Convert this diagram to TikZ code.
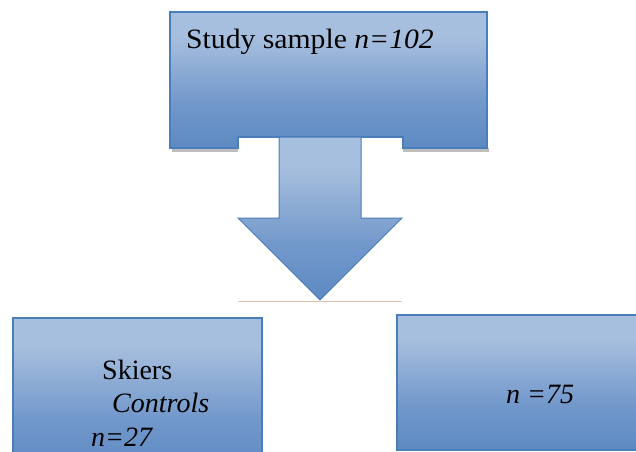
\documentclass[tikz,border=0pt]{standalone}
\usepackage{fontspec}
\setmainfont{Liberation Serif}
\newfontfamily\boxfont{Liberation Serif}
\definecolor{boxlight}{RGB}{167,191,222}
\definecolor{boxmid}{RGB}{114,152,203}
\definecolor{boxdark}{RGB}{79,129,189}
\definecolor{boxedge}{RGB}{74,126,187}
\definecolor{shadowgray}{RGB}{190,190,190}
\definecolor{tanline}{RGB}{222,196,176}
% vertical fill: dark at the bottom, light over the upper part
\pgfdeclareverticalshading{officeblue}{100bp}{color(0bp)=(boxdark); color(14bp)=(boxdark); color(42bp)=(boxmid); color(66bp)=(boxlight); color(100bp)=(boxlight)}
\tikzset{
  bluebox/.style={shading=officeblue, draw=boxedge, line width=1.2pt},
  boxshadow/.style={fill=shadowgray, draw=none},
  label/.style={anchor=base west, inner sep=0pt, font=\boxfont\fontsize{28}{28}\selectfont},
}
\begin{document}
\begin{tikzpicture}[x=1pt,y=-1pt]
\useasboundingbox (0,0) rectangle (636,451);
\clip (0,0) rectangle (636,451);
\fill[white] (0,0) rectangle (636,451);

% top box with a notch for the arrow
\fill[boxshadow] (172,148) rectangle (238,152);
\fill[boxshadow] (403,148) rectangle (489,152);
\path[bluebox] (170,12) -- (487,12) -- (487,148) -- (403,148) -- (403,137)
  -- (238,137) -- (238,148) -- (170,148) -- cycle;
\node[label, xscale=1.06] (study) at (186,48) {Study sample \textit{n=102}};

% downward block arrow
\path[bluebox, line width=1pt] (279,137) -- (361,137) -- (361,218) -- (402,218)
  -- (320,300) -- (238,218) -- (279,218) -- cycle;
\draw[tanline, line width=0.8pt] (238,301) -- (402,301);

% lower left box
\path[bluebox] (13,318) rectangle (262,470);
\node[label] (skiers) at (102,379) {Skiers};
\node[label] (controls) at (112,412) {\textit{Controls}};
\node[label] (nskiers) at (91,446) {\textit{n=27}};

% lower right box
\path[bluebox] (397,315) rectangle (650,450);
\node[label] (nctrl) at (506,403) {\textit{n =75}};
\end{tikzpicture}
\end{document}
